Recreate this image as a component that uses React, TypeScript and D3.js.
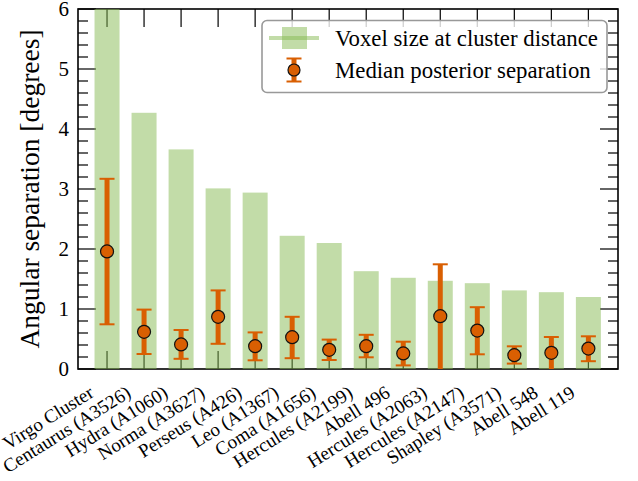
import React from "react";
import * as d3 from "d3";

// Cluster names along the x axis
const clusters = [
  "Virgo Cluster",
  "Centaurus (A3526)",
  "Hydra (A1060)",
  "Norma (A3627)",
  "Perseus (A426)",
  "Leo (A1367)",
  "Coma (A1656)",
  "Hercules (A2199)",
  "Abell 496",
  "Hercules (A2063)",
  "Hercules (A2147)",
  "Shapley (A3571)",
  "Abell 548",
  "Abell 119",
];
// Angular voxel size at each cluster distance [deg]
const voxelSize = [6.6, 4.27, 3.66, 3.01, 2.94, 2.22, 2.1, 1.63, 1.52, 1.47, 1.43, 1.31, 1.28, 1.2];
// Median posterior separation and its interval [deg]
const medianSep = [1.96, 0.62, 0.41, 0.87, 0.38, 0.53, 0.32, 0.38, 0.26, 0.88, 0.64, 0.23, 0.27, 0.34];
const sepLower = [0.745, 0.25, 0.17, 0.42, 0.145, 0.18, 0.15, 0.195, 0.06, -0.05, 0.245, 0.09, -0.03, 0.13];
const sepUpper = [3.17, 0.99, 0.65, 1.31, 0.61, 0.87, 0.49, 0.57, 0.455, 1.745, 1.03, 0.378, 0.533, 0.545];
const yTicks = [0, 1, 2, 3, 4, 5, 6];

const W = 638;
const H = 481;
const L = 78, R = 618, T = 9, B = 369;
const FONT = '"Liberation Serif", "DejaVu Serif", serif';
const GREEN = "#86b952";
const ORANGE = "#d95f02";

export default function App() {
  const x = d3.scaleLinear().domain([-0.784, 13.8]).range([L, R]);
  const y = d3.scaleLinear().domain([0, 6]).range([B, T]);
  const barW = (x(1) - x(0)) * 0.675;
  const minor = d3.range(0, 6.001, 0.2).filter((v) => Math.abs(v - Math.round(v)) > 1e-6);
  const idx = d3.range(clusters.length);

  return (
    <svg
      width={W}
      height={H}
      style={{ position: "absolute", left: 0, top: 0, background: "#fff" }}
      fontFamily={FONT}
    >
      <defs>
        <clipPath id="plotArea">
          <rect x={L} y={T} width={R - L} height={B - T} />
        </clipPath>
      </defs>

      {/* ticks: left & right (major + minor), top & bottom at categories */}
      <g stroke="#000" strokeWidth={1.2}>
        {yTicks.map((v) => (
          <g key={"maj" + v}>
            <line x1={L} x2={L + 18} y1={y(v)} y2={y(v)} />
            <line x1={R} x2={R - 18} y1={y(v)} y2={y(v)} />
          </g>
        ))}
        {minor.map((v) => (
          <g key={"min" + v}>
            <line x1={L} x2={L + 10} y1={y(v)} y2={y(v)} />
            <line x1={R} x2={R - 10} y1={y(v)} y2={y(v)} />
          </g>
        ))}
        {idx.map((i) => (
          <g key={"xt" + i}>
            <line x1={x(i)} x2={x(i)} y1={B} y2={B - 18} />
            <line x1={x(i)} x2={x(i)} y1={T} y2={T + 18} />
          </g>
        ))}
      </g>

      {/* frame */}
      <rect x={L} y={T} width={R - L} height={B - T} fill="none" stroke="#000" strokeWidth={1.6} />

      {/* voxel size bars */}
      <g clipPath="url(#plotArea)">
        {idx.map((i) => (
          <rect
            key={"bar" + i}
            x={x(i) - barW / 2}
            y={y(voxelSize[i])}
            width={barW}
            height={y(0) - y(voxelSize[i]) + 2}
            fill={GREEN}
            opacity={0.5}
          />
        ))}
      </g>

      {/* median separation with interval */}
      <g clipPath="url(#plotArea)">
        {idx.map((i) => (
          <g key={"eb" + i} stroke={ORANGE}>
            <line x1={x(i)} x2={x(i)} y1={y(sepLower[i])} y2={y(sepUpper[i])} strokeWidth={5} />
            <line x1={x(i) - 7.5} x2={x(i) + 7.5} y1={y(sepLower[i])} y2={y(sepLower[i])} strokeWidth={2} />
            <line x1={x(i) - 7.5} x2={x(i) + 7.5} y1={y(sepUpper[i])} y2={y(sepUpper[i])} strokeWidth={2} />
          </g>
        ))}
        {idx.map((i) => (
          <circle
            key={"pt" + i}
            cx={x(i)}
            cy={y(medianSep[i])}
            r={6.5}
            fill={ORANGE}
            stroke="#111"
            strokeWidth={1.2}
          />
        ))}
      </g>

      {/* y tick labels */}
      <g fontSize={21} textAnchor="end">
        {yTicks.map((v) => (
          <text key={"yl" + v} x={69} y={y(v)} dy="0.34em">
            {v}
          </text>
        ))}
      </g>

      {/* x tick labels */}
      <g fontSize={19} textAnchor="end">
        {idx.map((i) => (
          <text key={"xl" + i} transform={`translate(${x(i) - 12},${396}) rotate(-32)`}>
            {clusters[i]}
          </text>
        ))}
      </g>

      {/* y axis title */}
      <text
        transform={`translate(39,${(T + B) / 2}) rotate(-90)`}
        textAnchor="middle"
        fontSize={27.5}
      >
        Angular separation [degrees]
      </text>

      {/* legend */}
      <g>
        <rect x={262} y={20.5} width={345} height={72} rx={5} fill="#fff" fillOpacity={0.8} stroke="#999" strokeWidth={1.6} />
        <rect x={282} y={27} width={25} height={22} fill={GREEN} opacity={0.5} />
        <line x1={269} x2={319} y1={38} y2={38} stroke={GREEN} strokeOpacity={0.5} strokeWidth={4} />
        <text x={335} y={46} fontSize={22.8}>Voxel size at cluster distance</text>
        <g stroke={ORANGE}>
          <line x1={294} x2={294} y1={58.5} y2={81.5} strokeWidth={5} />
          <line x1={286.5} x2={301.5} y1={58.5} y2={58.5} strokeWidth={2} />
          <line x1={286.5} x2={301.5} y1={81.5} y2={81.5} strokeWidth={2} />
        </g>
        <circle cx={294} cy={70} r={6} fill={ORANGE} stroke="#111" strokeWidth={1.2} />
        <text x={335} y={78} fontSize={22.8}>Median posterior separation</text>
      </g>
    </svg>
  );
}
